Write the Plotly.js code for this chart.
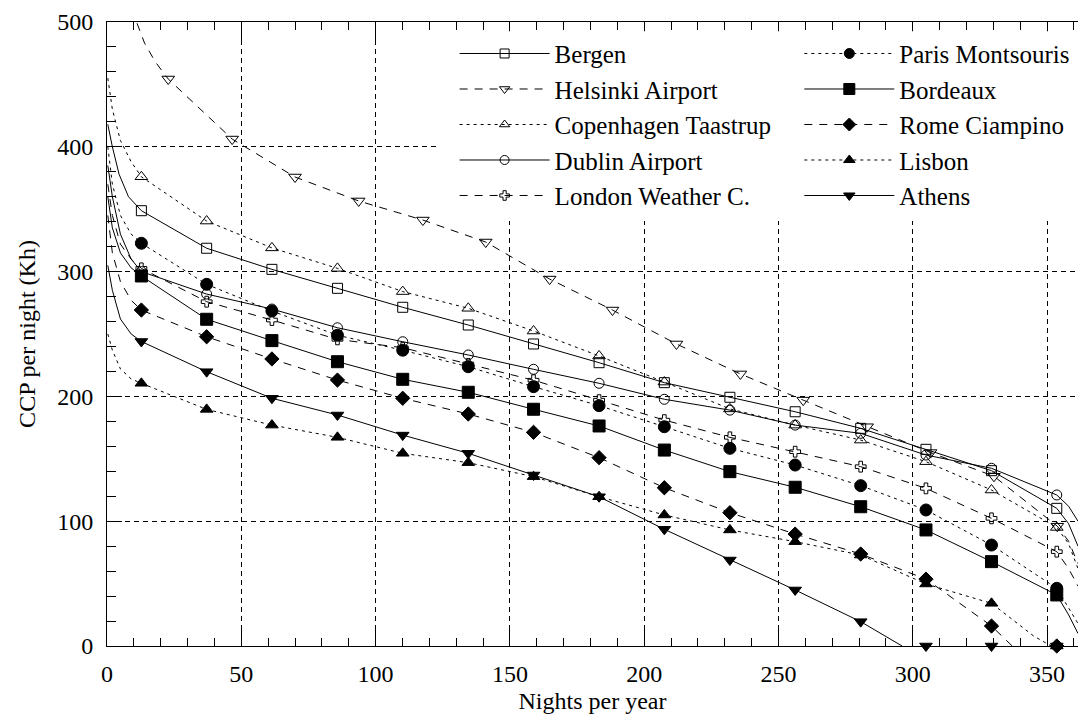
<!DOCTYPE html>
<html><head><meta charset="utf-8">
<script src="https://cdn.plot.ly/plotly-3.0.1.min.js"></script>
<style>html,body{margin:0;padding:0;background:#fff}#chart{width:1078px;height:715px}</style>
</head><body><div id="chart"></div>
<script>
// ---------- DATA ----------
const markerX = [12.8, 37.1, 61.4, 85.8, 110.1, 134.5, 158.8, 183.2, 207.5, 231.9, 256.2, 280.6, 304.9, 329.3, 353.6];
const helsinkiMarkerX = [22.8, 46.6, 70.0, 93.7, 117.6, 141.0, 164.8, 188.2, 212.0, 235.8, 259.2, 283.0, 306.6, 330.2, 353.8];

const bergenY     = [348.8, 318.7, 301.8, 286.6, 271.4, 257.2, 242.0, 227.0, 211.0, 199.3, 187.7, 174.4, 157.6, 140.5, 110.3];
const helsinkiY   = [454.3, 406.2, 375.8, 356.6, 341.3, 323.7, 294.0, 269.2, 242.0, 218.0, 197.0, 175.7, 155.0, 136.0, 96.0];
const copenhagenY = [376.0, 340.5, 319.0, 302.6, 284.0, 270.6, 252.4, 232.4, 211.5, 190.0, 177.0, 165.0, 147.7, 125.0, 95.0];
const dublinY     = [300.0, 282.0, 270.0, 255.0, 243.8, 233.2, 221.7, 210.5, 197.7, 189.0, 177.0, 170.4, 153.0, 142.4, 121.0];
const londonY     = [302.6, 275.9, 261.2, 245.7, 239.0, 226.0, 213.0, 197.0, 181.0, 167.2, 155.7, 143.7, 126.3, 102.3, 75.6];
const parisY      = [322.7, 289.8, 268.4, 249.0, 237.0, 223.8, 207.8, 192.6, 175.7, 158.4, 145.0, 128.5, 109.0, 80.9, 46.2];
const bordeauxY   = [296.5, 261.8, 244.7, 227.8, 213.7, 203.3, 189.7, 176.3, 157.0, 139.7, 127.2, 111.6, 93.0, 67.6, 40.9];
const romeY       = [269.2, 247.8, 230.0, 213.1, 198.5, 185.9, 171.2, 150.9, 126.8, 106.8, 89.7, 73.7, 53.6, 16.0, 0.0];
const lisbonY     = [210.5, 189.6, 177.0, 167.2, 154.4, 146.9, 135.7, 119.6, 105.0, 93.0, 83.6, 72.9, 49.7, 34.2, 0.0];
const athensY     = [244.0, 219.8, 198.5, 185.1, 169.0, 154.4, 137.0, 119.6, 93.5, 68.9, 44.9, 19.5, 0.0, 0.0, 0.0];

// line start / end segments (x, y)
const bergenHeadX = [0.3, 2, 4.5, 8],      bergenHeadY = [418, 400, 378, 360];
const bergenTailX = [358, 361.5],          bergenTailY = [98, 80];
const helsinkiHeadX = [8, 11, 14, 18],     helsinkiHeadY = [522, 500, 483, 468];
const helsinkiTailX = [358, 361.5],        helsinkiTailY = [84, 66];
const copenhagenHeadX = [0.3, 2, 5, 9],    copenhagenHeadY = [455, 430, 405, 388];
const copenhagenTailX = [358, 361.5],      copenhagenTailY = [82, 62];
const dublinHeadX = [0.3, 2, 5, 9],        dublinHeadY = [385, 360, 330, 310];
const dublinTailX = [358, 361.5],          dublinTailY = [112, 100];
const londonHeadX = [0.3, 2, 5, 9],        londonHeadY = [370, 345, 322, 310];
const londonTailX = [358, 361.5],          londonTailY = [62, 48];
const parisHeadX = [0.3, 2, 5, 9],         parisHeadY = [400, 370, 345, 330];
const parisTailX = [358, 361.5],           parisTailY = [30, 18];
const bordeauxHeadX = [0.3, 2, 5, 9],      bordeauxHeadY = [360, 335, 315, 303];
const bordeauxTailX = [358, 361.5],        bordeauxTailY = [25, 10];
const romeHeadX = [0.3, 2, 5, 9],          romeHeadY = [345, 315, 292, 277];
const romeTailX = [337],                   romeTailY = [0];
const lisbonHeadX = [0.3, 2, 5, 9],        lisbonHeadY = [250, 237, 222, 214];
const lisbonTailX = [345, 351.5],          lisbonTailY = [8, 0];
const athensHeadX = [0.3, 2, 5, 9],        athensHeadY = [305, 285, 262, 250];
const athensTailX = [296],                 athensTailY = [0];

const xTickVals = [0, 50, 100, 150, 200, 250, 300, 350];
const yTickVals = [0, 100, 200, 300, 400, 500];

// ---------- STYLE ----------
const DASHED = '8px,7px';
const DOTTED = '3px,4px';
const FONT = 'Liberation Serif';

const series = [
  {name:'Bergen', mx:markerX, my:bergenY, hx:bergenHeadX, hy:bergenHeadY, tx:bergenTailX, ty:bergenTailY, n:15, dash:'solid', sym:'square-open', size:10, lsize:9, leg:'legend'},
  {name:'Helsinki Airport', mx:helsinkiMarkerX, my:helsinkiY, hx:helsinkiHeadX, hy:helsinkiHeadY, tx:helsinkiTailX, ty:helsinkiTailY, n:15, dash:DASHED, sym:'triangle-down-open', size:11, lsize:9, leg:'legend'},
  {name:'Copenhagen Taastrup', mx:markerX, my:copenhagenY, hx:copenhagenHeadX, hy:copenhagenHeadY, tx:copenhagenTailX, ty:copenhagenTailY, n:15, dash:DOTTED, sym:'triangle-up-open', size:11, lsize:9, leg:'legend'},
  {name:'Dublin Airport', mx:markerX, my:dublinY, hx:dublinHeadX, hy:dublinHeadY, tx:dublinTailX, ty:dublinTailY, n:15, dash:'solid', sym:'circle-open', size:10, lsize:9, leg:'legend'},
  {name:'London Weather C.', mx:markerX, my:londonY, hx:londonHeadX, hy:londonHeadY, tx:londonTailX, ty:londonTailY, n:15, dash:DASHED, sym:'cross-open', size:9, lsize:8, leg:'legend'},
  {name:'Paris Montsouris', mx:markerX, my:parisY, hx:parisHeadX, hy:parisHeadY, tx:parisTailX, ty:parisTailY, n:15, dash:DOTTED, sym:'circle', size:12, lsize:10, leg:'legend2'},
  {name:'Bordeaux', mx:markerX, my:bordeauxY, hx:bordeauxHeadX, hy:bordeauxHeadY, tx:bordeauxTailX, ty:bordeauxTailY, n:15, dash:'solid', sym:'square', size:12, lsize:11, leg:'legend2'},
  {name:'Rome Ciampino', mx:markerX, my:romeY, hx:romeHeadX, hy:romeHeadY, tx:romeTailX, ty:romeTailY, n:14, dash:DASHED, sym:'diamond', size:11, lsize:10, leg:'legend2'},
  {name:'Lisbon', mx:markerX, my:lisbonY, hx:lisbonHeadX, hy:lisbonHeadY, tx:lisbonTailX, ty:lisbonTailY, n:14, dash:DOTTED, sym:'triangle-up', size:11, lsize:10, leg:'legend2'},
  {name:'Athens', mx:markerX, my:athensY, hx:athensHeadX, hy:athensHeadY, tx:athensTailX, ty:athensTailY, n:12, dash:'solid', sym:'triangle-down', size:11, lsize:10, leg:'legend2'}
];

const traces = [];
series.forEach(s => {
  const lx = s.hx.concat(s.mx.slice(0, s.n), s.tx);
  const ly = s.hy.concat(s.my.slice(0, s.n), s.ty);
  traces.push({type:'scatter', mode:'lines', x:lx, y:ly, showlegend:false, hoverinfo:'skip',
    line:{color:'black', width:1, dash:s.dash}});
  traces.push({type:'scatter', mode:'markers', x:s.mx, y:s.my, showlegend:false, cliponaxis:false,
    marker:{symbol:s.sym, size:s.size, color:'black', line:{color:'black', width:1}}});
});
series.forEach(s => {
  traces.push({type:'scatter', mode:'lines+markers', x:[null], y:[null], name:s.name, legend:s.leg, showlegend:true,
    line:{color:'black', width:1, dash:s.dash},
    marker:{symbol:s.sym, size:s.lsize, color:'black', line:{color:'black', width:1}}});
});

const axisCommon = {
  showline:true, linecolor:'black', linewidth:1,
  ticks:'inside', tickcolor:'black', tickwidth:1,
  showgrid:true, gridcolor:'black', gridwidth:1, griddash:'5px,4px',
  zeroline:false, tickfont:{family:FONT, size:24, color:'black'}
};

const legendFont = {family:FONT, size:25, color:'black'};

const layout = {
  width:1078, height:715,
  margin:{l:107, r:0, t:22, b:69, pad:0},
  paper_bgcolor:'white', plot_bgcolor:'white',
  font:{family:FONT, size:24, color:'black'},
  showlegend:true,
  xaxis: Object.assign({}, axisCommon, {
    range:[0, 361.5], tickmode:'array', tickvals:xTickVals, ticklen:18, mirror:'ticks',
    minor:{dtick:10, tick0:0, ticks:'inside', ticklen:8, tickcolor:'black', showgrid:false},
    ticklabelstandoff:6,
    title:{text:'Nights per year', font:{family:FONT, size:24, color:'black'}, standoff:6}
  }),
  yaxis: Object.assign({}, axisCommon, {
    range:[0, 500], tickmode:'array', tickvals:yTickVals, ticklen:15, mirror:false,
    minor:{dtick:20, tick0:0, ticks:'inside', ticklen:9, tickcolor:'black', showgrid:false},
    ticklabelstandoff:8,
    title:{text:'CCP per night (Kh)', font:{family:FONT, size:24, color:'black'}, standoff:14}
  }),
  legend:{x:0.358, y:0.986, xanchor:'left', yanchor:'top', bgcolor:'rgba(0,0,0,0)', borderwidth:0,
    font:legendFont, itemwidth:90, traceorder:'normal', tracegroupgap:0},
  legend2:{x:0.713, y:0.986, xanchor:'left', yanchor:'top', bgcolor:'rgba(0,0,0,0)', borderwidth:0,
    font:legendFont, itemwidth:90, traceorder:'normal', tracegroupgap:0},
  shapes:[{type:'rect', xref:'paper', yref:'paper', x0:0.34, x1:1.0, y0:0.681, y1:0.985,
    fillcolor:'white', line:{width:0}, layer:'above'}]
};

Plotly.newPlot('chart', traces, layout, {displayModeBar:false, staticPlot:true});
</script></body></html>
